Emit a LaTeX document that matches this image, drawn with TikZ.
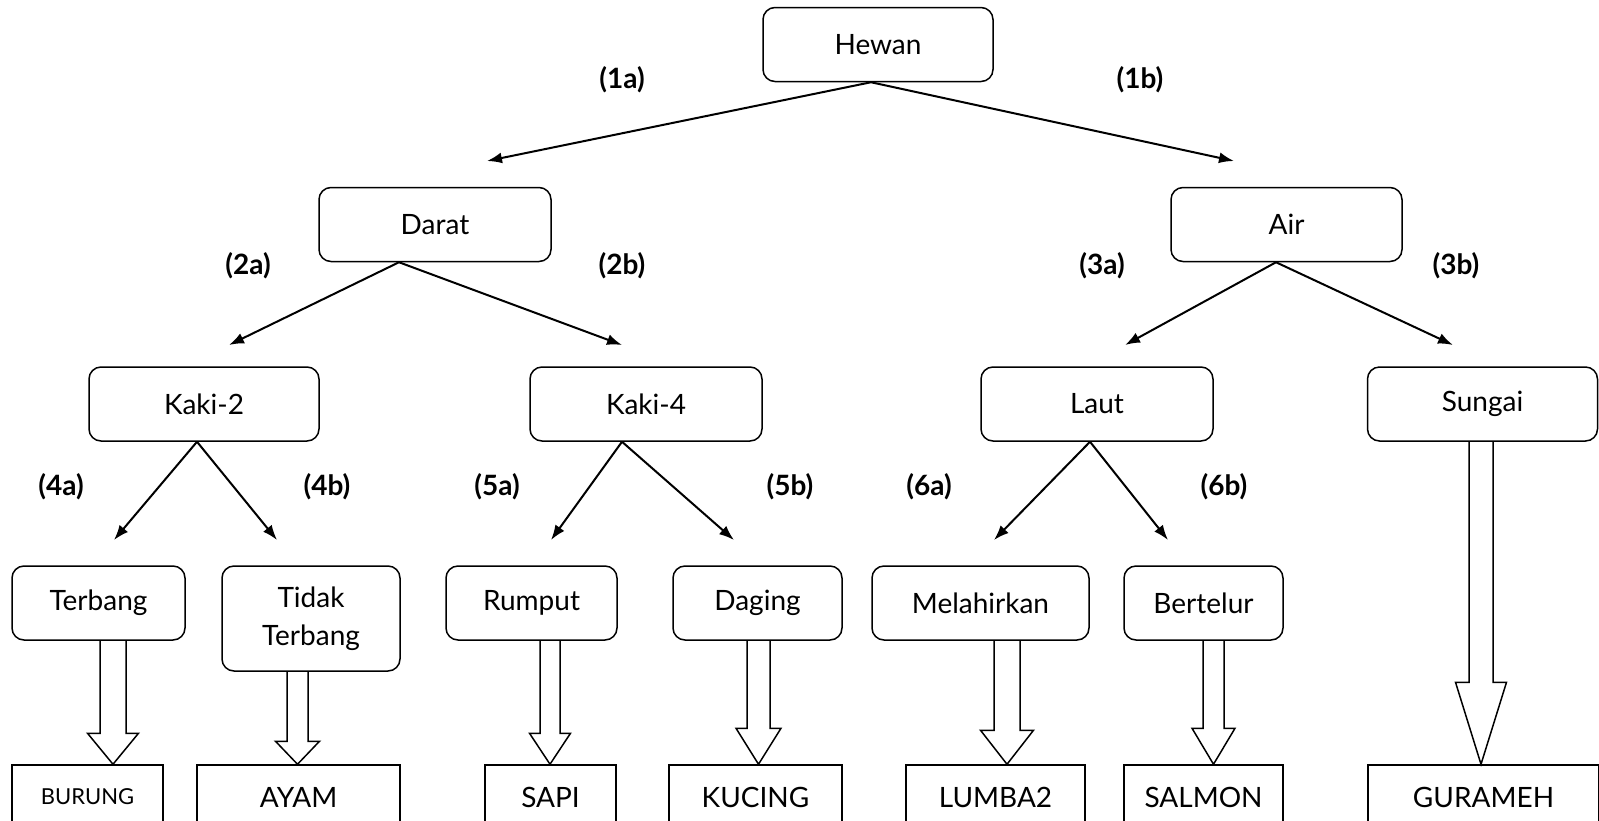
\documentclass[tikz,border=0pt]{standalone}
\usepackage{fontspec}
\setmainfont{Lato}
\usetikzlibrary{arrows.meta,calc}
\newcommand\barrow[6]{%
  \coordinate (bx) at (#3,0);
  \path (#1.south -| bx) coordinate (bs) (#2.north -| bx) coordinate (bt);
  \draw[blk] ($(bs)+(-#4,0)$) -- ($(bt)+(-#4,-#6)$) -- ($(bt)+(-#5,-#6)$) -- (bt) -- ($(bt)+(#5,-#6)$) -- ($(bt)+(#4,-#6)$) -- ($(bs)+(#4,0)$);}
\begin{document}
\begin{tikzpicture}[x=1pt,y=-1pt,
  box/.style={draw,rounded corners=12pt,line width=1.5pt,align=center,font=\fontsize{28}{38}\selectfont,inner sep=0pt,minimum height=74pt},
  leaf/.style={draw,line width=1.5pt,font=\fontsize{28}{33}\selectfont,minimum height=64pt,inner sep=0pt},
  lbl/.style={font=\bfseries\fontsize{28}{33}\selectfont},
  conn/.style={line width=2pt,-{Latex[length=15pt,width=11pt]}},
  blk/.style={draw,line width=1.5pt,line join=miter}]
\useasboundingbox (0,0) rectangle (1599,820);
\clip (0,0) rectangle (1599,820);
% level nodes
\node[box,minimum width=230pt] (hewan) at (878,44.5) {Hewan};
\node[box,minimum width=232pt] (darat) at (435,224.5) {Darat};
\node[box,minimum width=231pt] (air) at (1286.5,224.5) {Air};
\node[box,minimum width=230pt] (kaki2) at (204,404) {Kaki-2};
\node[box,minimum width=232pt] (kaki4) at (646,404) {Kaki-4};
\node[box,minimum width=232pt] (laut) at (1097,404) {Laut};
\node[box,minimum width=230pt] (sungai) at (1482.5,404) {Sungai};
\node[box,minimum width=173pt] (terbang) at (98.5,603) {Terbang};
\node[box,minimum width=178pt,minimum height=105pt] (tidak) at (311,618.5) {Tidak\\Terbang};
\node[box,minimum width=171pt] (rumput) at (531.5,603) {Rumput};
\node[box,minimum width=169pt] (daging) at (757.5,603) {Daging};
\node[box,minimum width=217pt] (melahirkan) at (980.5,603) {Melahirkan};
\node[box,minimum width=159pt] (bertelur) at (1203.5,603) {Bertelur};
% leaves
\node[leaf,minimum width=151pt,font=\fontsize{22}{26}\selectfont] (burung) at (87.5,797) {BURUNG};
\node[leaf,minimum width=203pt] (ayam) at (298.5,797) {AYAM};
\node[leaf,minimum width=131pt] (sapi) at (550.5,797) {SAPI};
\node[leaf,minimum width=173pt] (kucing) at (755.5,797) {KUCING};
\node[leaf,minimum width=179pt] (lumba) at (995.5,797) {LUMBA2};
\node[leaf,minimum width=159pt] (salmon) at (1203.5,797) {SALMON};
\node[leaf,minimum width=231pt] (gurameh) at (1483.5,797) {GURAMEH};
% arrow tips
\coordinate (t1a) at (487,161);
\coordinate (t1b) at (1234,161);
\coordinate (t2a) at (229,345);
\coordinate (t2b) at (622,345);
\coordinate (t3a) at (1125,345);
\coordinate (t3b) at (1453,345);
\coordinate (t4a) at (114,540);
\coordinate (t4b) at (277,540);
\coordinate (t5a) at (551,540);
\coordinate (t5b) at (734,540);
\coordinate (t6a) at (994,540);
\coordinate (t6b) at (1168,540);
\draw[conn] ([xshift=-7pt]hewan.south) -- (t1a);
\draw[conn] ([xshift=-7pt]hewan.south) -- (t1b);
\draw[conn] ([xshift=-36pt]darat.south) -- (t2a);
\draw[conn] ([xshift=-36pt]darat.south) -- (t2b);
\draw[conn] ([xshift=-10.5pt]air.south) -- (t3a);
\draw[conn] ([xshift=-10.5pt]air.south) -- (t3b);
\draw[conn] ([xshift=-7pt]kaki2.south) -- (t4a);
\draw[conn] ([xshift=-7pt]kaki2.south) -- (t4b);
\draw[conn] ([xshift=-24pt]kaki4.south) -- (t5a);
\draw[conn] ([xshift=-24pt]kaki4.south) -- (t5b);
\draw[conn] ([xshift=-7pt]laut.south) -- (t6a);
\draw[conn] ([xshift=-7pt]laut.south) -- (t6b);
% labels
\node[lbl] (l1a) at (622,80) {(1a)};
\node[lbl] (l1b) at (1140,80) {(1b)};
\node[lbl] (l2a) at (248,266) {(2a)};
\node[lbl] (l2b) at (622,266) {(2b)};
\node[lbl] (l3a) at (1102,266) {(3a)};
\node[lbl] (l3b) at (1456,266) {(3b)};
\node[lbl] (l4a) at (61,487) {(4a)};
\node[lbl] (l4b) at (327,487) {(4b)};
\node[lbl] (l5a) at (497,487) {(5a)};
\node[lbl] (l5b) at (790,487) {(5b)};
\node[lbl] (l6a) at (929,487) {(6a)};
\node[lbl] (l6b) at (1224,487) {(6b)};
% block arrows
\barrow{terbang}{burung}{113}{13}{25.5}{31}
\barrow{tidak}{ayam}{297.5}{10.5}{22}{23}
\barrow{rumput}{sapi}{550}{10}{20.5}{31}
\barrow{daging}{kucing}{758.5}{11.5}{22.5}{36}
\barrow{melahirkan}{lumba}{1007}{13}{26.5}{34}
\barrow{bertelur}{salmon}{1213.5}{10.5}{21.5}{36}
\barrow{sungai}{gurameh}{1481}{12}{25.5}{82}
\end{tikzpicture}
\end{document}
